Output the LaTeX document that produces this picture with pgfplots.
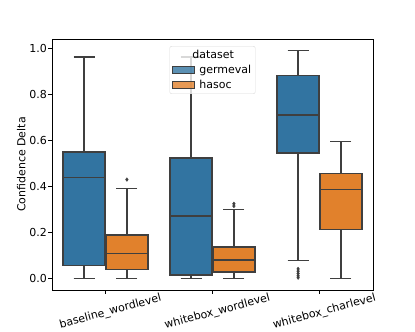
\documentclass[border=0pt]{standalone}
\usepackage{fontspec}
\setmainfont{DejaVu Sans}
\usepackage{pgfplots}
\pgfplotsset{compat=1.18}
\usepgfplotslibrary{statistics}

\definecolor{germeval}{HTML}{3274A1}
\definecolor{hasoc}{HTML}{E1812C}
\definecolor{edge}{HTML}{3F3F3F}

\pgfplotsset{
  sbox/.style={forget plot, draw=edge, line width=1.4pt, boxplot/draw direction=y,
    boxplot/every whisker/.style={draw=edge, line width=1.4pt},
    boxplot/every median/.style={draw=edge, line width=1.4pt},
    boxplot/every box/.style={draw=edge, line width=1.4pt},
    mark=diamond*, mark size=1.8pt, mark options={fill=edge, draw=edge, line width=0.4pt}},
}

\begin{document}
\begin{tikzpicture}
\begin{axis}[
    scale only axis,
    width=321pt, height=251pt,
    font=\fontsize{11}{13}\selectfont,
    xmin=-0.5, xmax=2.5,
    ymin=-0.0496, ymax=1.0407,
    xtick={0,1,2},
    xticklabels={baseline\_wordlevel, whitebox\_wordlevel, whitebox\_charlevel},
    ytick={0,0.2,0.4,0.6,0.8,1},
    yticklabel style={xshift=2pt, /pgf/number format/.cd, fixed, fixed zerofill, precision=1},
    /pgf/number format/assume math mode=true,
    xticklabel style={rotate=15, anchor=center, yshift=-19pt},
    ylabel={Confidence Delta},
    ylabel style={yshift=-3pt},
    tick align=outside, tick pos=left,
    major tick length=3.5pt,
    every tick/.style={black, line width=0.8pt},
    axis line style={black, line width=0.8pt},
    legend style={at={(0.5,0.972)}, anchor=north, draw=black!15, rounded corners=2pt,
      fill=white, fill opacity=0.8, text opacity=1, inner sep=2pt,
      row sep=1pt, font=\fontsize{11}{13}\selectfont},
    legend cell align=left,
    legend image code/.code={\draw[#1, sharp corners] (0pt,-3.5pt) rectangle (22pt,3.5pt);},
]
% baseline_wordlevel
\addplot[sbox, fill=germeval, boxplot prepared={draw position=-0.2, box extend=0.392, whisker extend=0.196,
  lower whisker=0.0, lower quartile=0.058, median=0.438, upper quartile=0.549, upper whisker=0.962}]
  coordinates {};
\addplot[sbox, fill=hasoc, boxplot prepared={draw position=0.2, box extend=0.392, whisker extend=0.196,
  lower whisker=0.0, lower quartile=0.040, median=0.110, upper quartile=0.190, upper whisker=0.390}]
  coordinates {(0,0.430)};
% whitebox_wordlevel
\addplot[sbox, fill=germeval, boxplot prepared={draw position=0.8, box extend=0.392, whisker extend=0.196,
  lower whisker=0.0, lower quartile=0.016, median=0.272, upper quartile=0.523, upper whisker=0.962}]
  coordinates {};
\addplot[sbox, fill=hasoc, boxplot prepared={draw position=1.2, box extend=0.392, whisker extend=0.196,
  lower whisker=0.0, lower quartile=0.029, median=0.080, upper quartile=0.138, upper whisker=0.300}]
  coordinates {(0,0.315) (0,0.325)};
% whitebox_charlevel
\addplot[sbox, fill=germeval, boxplot prepared={draw position=1.8, box extend=0.392, whisker extend=0.196,
  lower whisker=0.078, lower quartile=0.545, median=0.710, upper quartile=0.881, upper whisker=0.991}]
  coordinates {(0,0.042) (0,0.032) (0,0.022) (0,0.012) (0,0.004)};
\addplot[sbox, fill=hasoc, boxplot prepared={draw position=2.2, box extend=0.392, whisker extend=0.196,
  lower whisker=0.0, lower quartile=0.213, median=0.388, upper quartile=0.457, upper whisker=0.596}]
  coordinates {};

\addlegendimage{empty legend}
\addlegendentry{\hspace{-4pt}dataset}
\addlegendimage{fill=germeval, draw=edge, line width=0.6pt}
\addlegendentry{\hspace{3pt}germeval}
\addlegendimage{fill=hasoc, draw=edge, line width=0.6pt}
\addlegendentry{\hspace{3pt}hasoc}
\end{axis}
\pgfresetboundingbox
\useasboundingbox (current axis.south west) ++(-52pt,-42pt) rectangle ++(415pt,332pt);
\end{tikzpicture}
\end{document}
